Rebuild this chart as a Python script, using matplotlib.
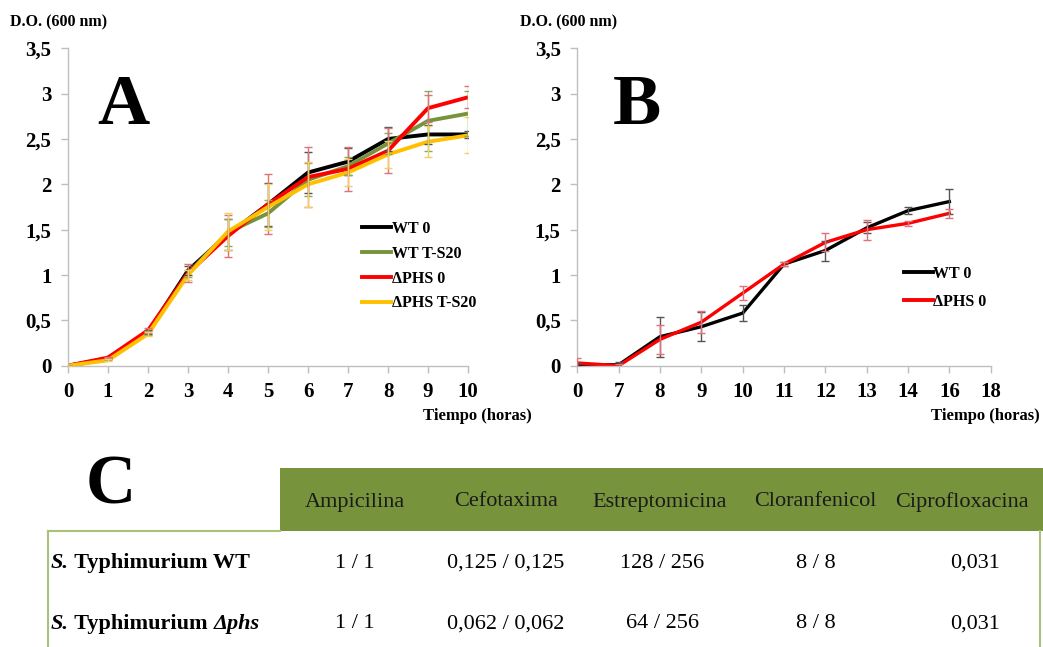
import numpy as np
import matplotlib.pyplot as plt
from matplotlib.lines import Line2D
from matplotlib.patches import Rectangle

# ---- data: panel A (growth curves, 0-10 h)
hours_a = [0, 1, 2, 3, 4, 5, 6, 7, 8, 9, 10]
wt0_a = [0, 0.08, 0.37, 1.05, 1.45, 1.78, 2.13, 2.25, 2.50, 2.55, 2.55]
wt0_a_err = [0, 0.01, 0.02, 0.05, 0.17, 0.24, 0.23, 0.15, 0.13, 0.10, 0.04]
wtts_a = [0, 0.07, 0.36, 1.02, 1.47, 1.68, 2.05, 2.20, 2.45, 2.70, 2.78]
wtts_a_err = [0, 0.01, 0.02, 0.04, 0.15, 0.15, 0.18, 0.10, 0.12, 0.33, 0.25]
phs0_a = [0, 0.09, 0.39, 1.02, 1.43, 1.78, 2.08, 2.17, 2.37, 2.84, 2.96]
phs0_a_err = [0, 0.01, 0.03, 0.10, 0.23, 0.33, 0.33, 0.24, 0.25, 0.15, 0.12]
phsts_a = [0, 0.06, 0.35, 1.00, 1.48, 1.75, 2.00, 2.13, 2.33, 2.47, 2.54]
phsts_a_err = [0, 0.01, 0.02, 0.06, 0.20, 0.25, 0.25, 0.15, 0.15, 0.17, 0.20]

# ---- data: panel B (categorical hours)
hours_b = ['0', '7', '8', '9', '10', '11', '12', '13', '14', '16', '18']
wt0_b = [0.01, 0.01, 0.32, 0.43, 0.58, 1.12, 1.27, 1.52, 1.71, 1.81]
wt0_b_err = [0.02, 0.03, 0.22, 0.16, 0.09, 0.02, 0.11, 0.06, 0.04, 0.14]
phs0_b = [0.03, 0.0, 0.29, 0.48, 0.80, 1.12, 1.36, 1.50, 1.57, 1.68]
phs0_b_err = [0.05, 0.02, 0.16, 0.12, 0.08, 0.02, 0.10, 0.11, 0.03, 0.05]

yticks = [0, 0.5, 1, 1.5, 2, 2.5, 3, 3.5]
ytick_labels = ['0', '0,5', '1', '1,5', '2', '2,5', '3', '3,5']

# ---- data: panel C (MIC table)
antibiotics = ['Ampicilina', 'Cefotaxima', 'Estreptomicina', 'Cloranfenicol', 'Ciprofloxacina']
strains = ['WT', 'Δphs']
mic_wt = ['1 / 1', '0,125 / 0,125', '128 / 256', '8 / 8', '0,031']
mic_phs = ['1 / 1', '0,062 / 0,062', '64 / 256', '8 / 8', '0,031']

BLACK = '#000000'
GREEN = '#77933C'
RED = '#FF0000'
YELLOW = '#FFC000'
GRAY = '#BFBFBF'
SERIF = 'Liberation Serif'

W, H = 1043, 647
fig = plt.figure(figsize=(W / 100, H / 100), dpi=100)


def fx(x):
    return x / W


def fy(y):
    return 1 - y / H


def style_axes(ax):
    for s in ['top', 'right']:
        ax.spines[s].set_visible(False)
    for s in ['left', 'bottom']:
        ax.spines[s].set_color(GRAY)
        ax.spines[s].set_linewidth(1)
    ax.tick_params(direction='out', length=5, width=1, color=GRAY, pad=7,
                   labelsize=15)
    ax.set_ylim(0, 3.5)
    ax.set_yticks(yticks)
    ax.set_yticklabels(ytick_labels)
    for lab in ax.get_xticklabels() + ax.get_yticklabels():
        lab.set_fontfamily(SERIF)
        lab.set_fontweight('bold')


# ---------------- panel A
axA = fig.add_axes([fx(68), fy(365.7), 400 / W, 317.4 / H])
series_a = [(wt0_a, wt0_a_err, BLACK, '#555555', 'WT 0'),
            (wtts_a, wtts_a_err, GREEN, '#8FA85A', 'WT T-S20'),
            (phs0_a, phs0_a_err, RED, '#E0707A', 'ΔPHS 0'),
            (phsts_a, phsts_a_err, YELLOW, '#F2D060', 'ΔPHS T-S20')]
handles = []
for vals, err, col, ecol, lab in series_a:
    axA.plot(hours_a, vals, color=col, lw=2.8, zorder=2, solid_capstyle='butt')
    axA.errorbar(hours_a, vals, yerr=err, fmt='none', ecolor=ecol, elinewidth=1,
                 capsize=3, capthick=1, zorder=3)
    handles.append(Line2D([], [], color=col, lw=2.8, label=lab))
axA.set_xlim(0, 10)
axA.set_xticks(hours_a)
style_axes(axA)
axA.legend(handles=handles, loc='upper left', bbox_to_anchor=(0.735, 0.456),
           frameon=False, borderpad=0, borderaxespad=0, handlelength=1.8,
           handletextpad=0.05, labelspacing=0.55,
           prop={'family': SERIF, 'weight': 'bold', 'size': 11.5})

# ---------------- panel B
axB = fig.add_axes([fx(577.3), fy(365.7), 413.4 / W, 317.4 / H])
pos_b = np.arange(len(hours_b))
series_b = [(wt0_b, wt0_b_err, BLACK, '#555555', 'WT 0'),
            (phs0_b, phs0_b_err, RED, '#E0707A', 'ΔPHS 0')]
handles_b = []
for vals, err, col, ecol, lab in series_b:
    xs = pos_b[:len(vals)]
    axB.plot(xs, vals, color=col, lw=2.4, zorder=2)
    axB.errorbar(xs, vals, yerr=err, fmt='none', ecolor=ecol, elinewidth=1,
                 capsize=3, capthick=1, zorder=3)
    handles_b.append(Line2D([], [], color=col, lw=2.8, label=lab))
axB.set_xlim(0, len(hours_b) - 1)
axB.set_xticks(pos_b)
axB.set_xticklabels(hours_b)
style_axes(axB)
axB.legend(handles=handles_b, loc='upper left', bbox_to_anchor=(0.79, 0.314),
           frameon=False, borderpad=0, borderaxespad=0, handlelength=1.8,
           handletextpad=0.05, labelspacing=0.75,
           prop={'family': SERIF, 'weight': 'bold', 'size': 11.5})

# axis captions and panel letters
for x0 in [10, 520]:
    fig.text(fx(x0), fy(22), 'D.O. (600 nm)', family=SERIF, weight='bold',
             size=11.5, va='center', ha='left')
for x1 in [532, 1040]:
    fig.text(fx(x1), fy(416), 'Tiempo (horas)', family=SERIF, weight='bold',
             size=12, va='center', ha='right')
fig.text(fx(123), fy(106), 'A', family=SERIF, weight='bold', size=52,
         ha='center', va='center')
fig.text(fx(637), fy(106), 'B', family=SERIF, weight='bold', size=52,
         ha='center', va='center')

# ---------------- panel C: table drawn in pixel coordinates
axT = fig.add_axes([0, 0, 1, 1], zorder=-1)
axT.set_xlim(0, W)
axT.set_ylim(H, 0)
axT.axis('off')

axT.add_patch(Rectangle((280, 468), W - 280, 63, color=GREEN, lw=0))
axT.plot([48, 280], [531, 531], color='#A9C27A', lw=1.5)
axT.plot([48, 48], [531, H], color='#A9C27A', lw=1.5)
axT.plot([1040, 1040], [531, H], color='#A9C27A', lw=1.5)
axT.text(111, 486, 'C', family=SERIF, weight='bold', size=50, ha='center',
         va='center')

head_x = [355, 506, 660, 815, 962]
val_x = [355, 506, 662, 816, 975]
for hx, name in zip(head_x, antibiotics):
    axT.text(hx, 502, name, family=SERIF, size=16, ha='center', va='center',
             color='#1A1A1A')

renderer = fig.canvas.get_renderer()
row_y = [563, 624]
for ry, strain, mics in zip(row_y, strains, [mic_wt, mic_phs]):
    t1 = axT.text(51, ry, 'S.', family=SERIF, weight='bold', style='italic',
                  size=16, ha='left', va='center')
    bb = t1.get_window_extent(renderer)
    x_next = bb.x1
    if strain == 'WT':
        axT.text(x_next, fy(ry) * H, ' Typhimurium WT', family=SERIF,
                 weight='bold', size=16, ha='left', va='center',
                 transform=None)
    else:
        t2 = axT.text(x_next, fy(ry) * H, ' Typhimurium ', family=SERIF,
                      weight='bold', size=16, ha='left', va='center',
                      transform=None)
        bb2 = t2.get_window_extent(renderer)
        axT.text(bb2.x1, fy(ry) * H, strain, family=SERIF, weight='bold',
                 style='italic', size=16, ha='left', va='center',
                 transform=None)
    for vx, m in zip(val_x, mics):
        axT.text(vx, ry, m, family=SERIF, size=16, ha='center', va='center')

fig.savefig('out.png', dpi=100)
